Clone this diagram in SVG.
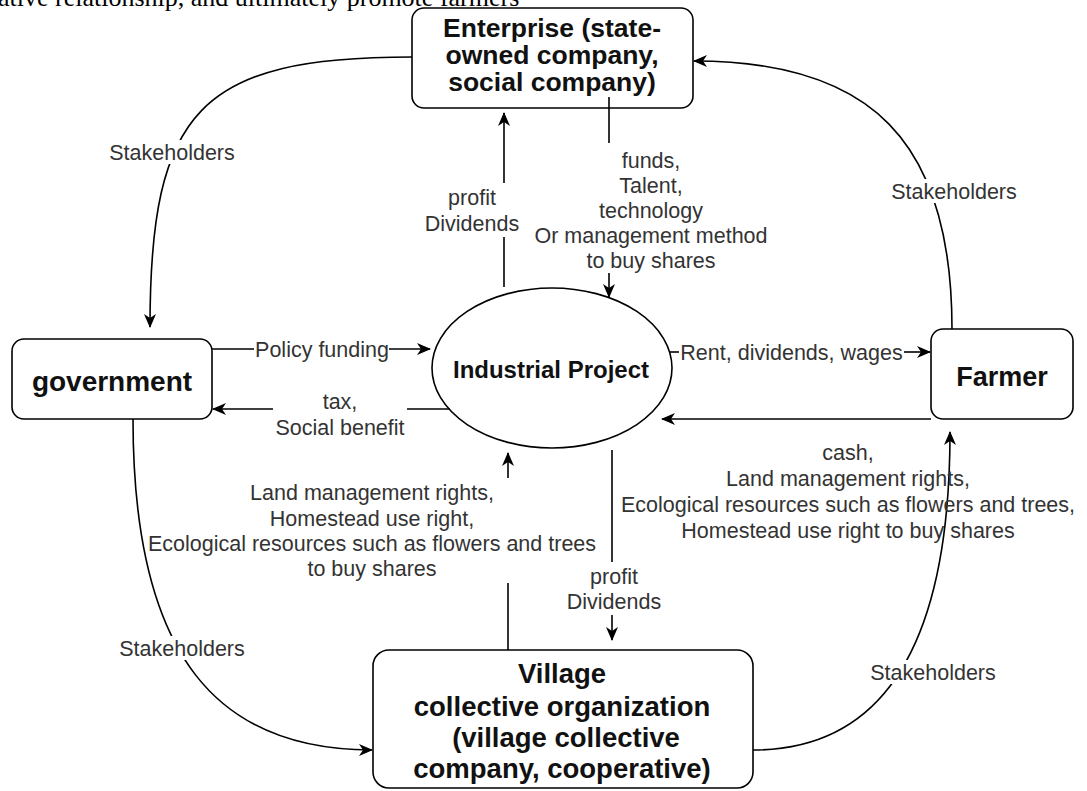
<svg xmlns="http://www.w3.org/2000/svg" width="1087" height="791" viewBox="0 0 1087 791">
<defs>
<style>
.node{fill:#fff;stroke:#000;stroke-width:1.6}
.nt{font-family:"Liberation Sans",Arial,sans-serif;font-weight:bold;fill:#111;text-anchor:middle}
.edge{fill:none;stroke:#000;stroke-width:1.6}
.lbl{font-family:"Liberation Sans",Arial,sans-serif;font-size:21.5px;fill:#333;text-anchor:middle}
.bg{fill:#fff}
</style>
<marker id="arr" viewBox="0 0 14 12" refX="13" refY="6" markerWidth="14" markerHeight="12" orient="auto" markerUnits="userSpaceOnUse">
<path d="M0,0 L14,6 L0,12 L4,6 Z" fill="#000"/>
</marker>
</defs>
<rect width="1087" height="791" fill="#fff"/>
<text x="-2" y="6" font-family="Liberation Serif,'Times New Roman',serif" font-size="26" fill="#000">ative relationship, and ultimately promote farmers</text>

<g id="enterprise">
<rect class="node" x="412" y="8" width="281" height="100" rx="12"/>
<text class="nt" font-size="26.5"><tspan x="552" y="37">Enterprise (state-</tspan><tspan x="552" y="64">owned company,</tspan><tspan x="552" y="91">social company)</tspan></text>
</g>
<g id="government">
<rect class="node" x="12" y="339" width="200" height="80" rx="12"/>
<text class="nt" font-size="28" x="112" y="391">government</text>
</g>
<g id="farmer">
<rect class="node" x="931" y="329" width="142" height="90" rx="12"/>
<text class="nt" font-size="27" x="1002" y="386">Farmer</text>
</g>
<g id="project">
<ellipse class="node" cx="552" cy="368" rx="120" ry="80"/>
<text class="nt" font-size="24" x="551" y="378">Industrial Project</text>
</g>
<g id="village">
<rect class="node" x="373" y="650" width="380" height="138" rx="16"/>
<text class="nt" font-size="27.5"><tspan x="562" y="683">Village</tspan><tspan x="562" y="716">collective organization</tspan><tspan x="566" y="747">(village collective</tspan><tspan x="562" y="778">company, cooperative)</tspan></text>
</g>

<g id="connectors">
<path class="edge" d="M412 57 C200 57 150 110 150 327" marker-end="url(#arr)"/>
<path class="edge" d="M952 329 C952 140 870 61 694 61" marker-end="url(#arr)"/>
<path class="edge" d="M133 419 C133 660 220 750 372 750" marker-end="url(#arr)"/>
<path class="edge" d="M753 750 C880 750 950 650 950 432" marker-end="url(#arr)"/>
<path class="edge" d="M212 349 L254 349"/>
<path class="edge" d="M389 349 L430 349" marker-end="url(#arr)"/>
<path class="edge" d="M450 409 L407 409"/>
<path class="edge" d="M273 409 L213 409" marker-end="url(#arr)"/>
<path class="edge" d="M670 352 L679 352"/>
<path class="edge" d="M904 352 L930 352" marker-end="url(#arr)"/>
<path class="edge" d="M931 419 L662 419" marker-end="url(#arr)"/>
<path class="edge" d="M609 97 L609 143"/>
<path class="edge" d="M609 273 L609 297" marker-end="url(#arr)"/>
<path class="edge" d="M504 287 L504 237"/>
<path class="edge" d="M504 183 L504 113" marker-end="url(#arr)"/>
<path class="edge" d="M508 650 L508 583"/>
<path class="edge" d="M508 478 L508 453" marker-end="url(#arr)"/>
<path class="edge" d="M612 450 L612 562"/>
<path class="edge" d="M612 615 L612 640" marker-end="url(#arr)"/>
</g>

<g id="edge-labels">
<rect class="bg" x="106" y="140" width="132" height="24"/>
<text class="lbl" x="172" y="159.5">Stakeholders</text>
<rect class="bg" x="888" y="179" width="132" height="24"/>
<text class="lbl" x="954" y="198.5">Stakeholders</text>
<rect class="bg" x="116" y="636" width="132" height="24"/>
<text class="lbl" x="182" y="655.5">Stakeholders</text>
<rect class="bg" x="867" y="660" width="132" height="24"/>
<text class="lbl" x="933" y="679.5">Stakeholders</text>
<text class="lbl" x="322" y="356.5">Policy funding</text>
<text class="lbl"><tspan x="340" y="409">tax,</tspan><tspan x="340" y="434.5">Social benefit</tspan></text>
<text class="lbl" x="791.5" y="359.5">Rent, dividends, wages</text>
<text class="lbl"><tspan x="848" y="459.5">cash,</tspan><tspan x="848" y="485.5">Land management rights,</tspan><tspan x="848" y="511.5">Ecological resources such as flowers and trees,</tspan><tspan x="848" y="537.5">Homestead use right to buy shares</tspan></text>
<text class="lbl"><tspan x="651" y="167.5">funds,</tspan><tspan x="651" y="192.5">Talent,</tspan><tspan x="651" y="217.5">technology</tspan><tspan x="651" y="242.5">Or management method</tspan><tspan x="651" y="267.5">to buy shares</tspan></text>
<text class="lbl"><tspan x="472" y="204.5">profit</tspan><tspan x="472" y="230.5">Dividends</tspan></text>
<text class="lbl"><tspan x="372" y="499.5">Land management rights,</tspan><tspan x="372" y="525.5">Homestead use right,</tspan><tspan x="372" y="550.5">Ecological resources such as flowers and trees</tspan><tspan x="372" y="575.5">to buy shares</tspan></text>
<text class="lbl"><tspan x="614" y="583.5">profit</tspan><tspan x="614" y="608.5">Dividends</tspan></text>
</g>
</svg>
